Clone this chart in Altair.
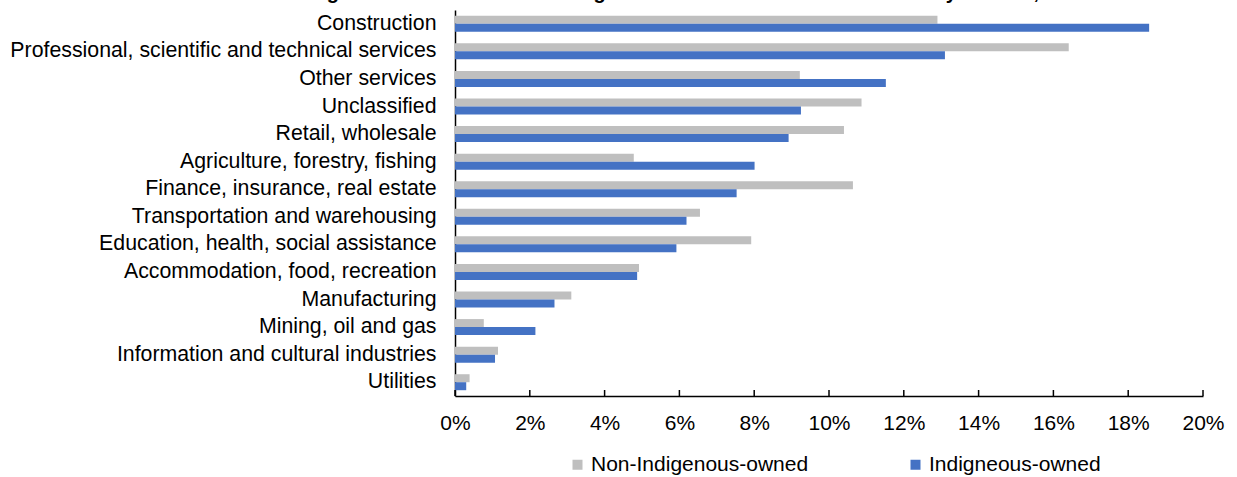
import altair as alt
import pandas as pd

categories = [
    "Construction",
    "Professional, scientific and technical services",
    "Other services",
    "Unclassified",
    "Retail, wholesale",
    "Agriculture, forestry, fishing",
    "Finance, insurance, real estate",
    "Transportation and warehousing",
    "Education, health, social assistance",
    "Accommodation, food, recreation",
    "Manufacturing",
    "Mining, oil and gas",
    "Information and cultural industries",
    "Utilities",
]
non_indigenous = [12.90, 16.41, 9.22, 10.87, 10.40, 4.78, 10.64, 6.55, 7.92, 4.92, 3.11, 0.77, 1.15, 0.39]
indigenous = [18.56, 13.10, 11.52, 9.25, 8.92, 8.01, 7.53, 6.19, 5.92, 4.87, 2.66, 2.15, 1.07, 0.30]
series = ["Non-Indigenous-owned", "Indigneous-owned"]
colors = ["#BFBFBF", "#4472C4"]
tick_values = [0, 2, 4, 6, 8, 10, 12, 14, 16, 18, 20]
title_text = "Distribution of Indigenous-owned and non-Indigenous-owned businesses in industry sectors, 2021"

FONT = "Liberation Sans"
W, H = 748, 386

rows = []
for c, a, b in zip(categories, non_indigenous, indigenous):
    rows.append({"category": c, "series": series[0], "value": a})
    rows.append({"category": c, "series": series[1], "value": b})
df = pd.DataFrame(rows)
tick_df = pd.DataFrame({"value": tick_values})
title_df = pd.DataFrame({"t": [title_text]})

x_scale = alt.Scale(domain=[0, 20], nice=False, zero=True)

bars = alt.Chart(df).mark_bar().encode(
    x=alt.X(
        "value:Q",
        title=None,
        scale=x_scale,
        axis=alt.Axis(
            values=tick_values,
            labelExpr="datum.value + '%'",
            grid=False,
            ticks=False,
            domainColor="black",
            domainWidth=1.5,
            labelFontSize=21,
            labelFont=FONT,
            labelColor="black",
            labelPadding=16,
            labelFlush=False,
            labelOverlap=False,
        ),
    ),
    y=alt.Y(
        "category:N",
        sort=categories,
        title=None,
        scale=alt.Scale(paddingInner=0.42, paddingOuter=0.21),
        axis=alt.Axis(
            ticks=False,
            domainColor="black",
            domainWidth=1.5,
            labelFontSize=21.3,
            labelFont=FONT,
            labelColor="black",
            labelPadding=19,
            labelLimit=600,
            labelBaseline="middle",
        ),
    ),
    yOffset=alt.YOffset("series:N", sort=series, scale=alt.Scale(paddingInner=0, paddingOuter=0)),
    color=alt.Color(
        "series:N",
        sort=series,
        scale=alt.Scale(domain=series, range=colors),
        legend=alt.Legend(
            title=None,
            orient="none",
            legendX=112,
            legendY=444,
            direction="horizontal",
            symbolType="square",
            symbolSize=100,
            symbolStrokeWidth=0,
            labelFontSize=21,
            labelFont=FONT,
            labelColor="black",
            labelLimit=400,
            columnPadding=96,
            labelOffset=3,
        ),
    ),
)

ticks = alt.Chart(tick_df).mark_rule(color="black", strokeWidth=1.5).encode(
    x=alt.X("value:Q", title=None, scale=x_scale),
    y=alt.value(H - 6),
    y2=alt.value(H),
)

title = alt.Chart(title_df).mark_text(
    align="left", baseline="alphabetic", font=FONT, fontWeight="bold", fontSize=20, color="black"
).encode(text="t:N", x=alt.value(-306), y=alt.value(-11))

chart = alt.layer(bars, ticks, title).properties(
    width=W,
    height=H,
    autosize=alt.AutoSizeParams(type="none"),
    padding={"left": 455, "top": 10, "right": 34, "bottom": 81},
).configure_view(stroke=None)

chart.save("out.html", embed_options={"renderer": "svg", "actions": False})
